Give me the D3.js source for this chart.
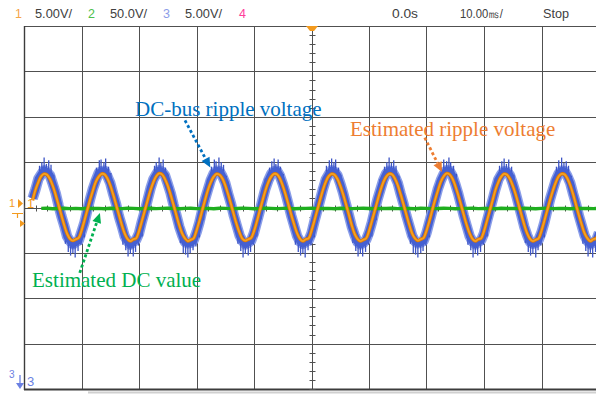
<!DOCTYPE html>
<html>
<head>
<meta charset="utf-8">
<script src="https://cdn.jsdelivr.net/npm/d3@7"></script>
<style>
  html, body { margin: 0; padding: 0; background: #fff; }
  svg { display: block; }
</style>
</head>
<body>
<svg id="scope" width="596" height="394"></svg>
<script>
// ---------------------------
// Scope capture: DC-bus ripple, estimated ripple and estimated DC
// ---------------------------

// header read-outs
const chanLabels = ["1", "2", "3", "4"];
const chanScales = ["5.00V/", "50.0V/", "5.00V/", ""];
const timeLabels = ["0.0s", "10.00㎳/", "Stop"];

// sample clock of the traces (ms)
const t0 = -48.5;
const dt = 0.5;

// ch1 - estimated ripple voltage (V)
const ch1 = [
  0.8, 1.95, 2.8, 3.45, 3.7, 3.6, 3.15, 2.4, 1.4, 0.3, -0.85, -1.95, -2.9, -3.45, -3.65, -3.5, -3.35,
  -2.55, -1.45, -0.3, 0.85, 1.9, 2.85, 3.4, 3.7, 3.65, 3.2, 2.45, 1.45, 0.35, -0.8, -1.9, -2.85, -3.45, -3.7, -3.5, -3.4,
  -2.6, -1.5, -0.35, 0.8, 1.9, 2.8, 3.45, 3.75, 3.65, 3.15, 2.4, 1.4, 0.3, -0.85, -1.95, -2.85, -3.4, -3.7, -3.55, -3.4,
  -2.55, -1.5, -0.3, 0.85, 1.95, 2.8, 3.4, 3.7, 3.6, 3.2, 2.45, 1.45, 0.35, -0.8, -1.9, -2.8, -3.45, -3.65, -3.5, -3.35,
  -2.6, -1.55, -0.35, 0.8, 1.9, 2.8, 3.4, 3.7, 3.65, 3.2, 2.4, 1.4, 0.3, -0.85, -1.9, -2.85, -3.45, -3.7, -3.5, -3.4,
  -2.55, -1.45, -0.3, 0.85, 1.95, 2.85, 3.45, 3.7, 3.6, 3.15, 2.4, 1.45, 0.35, -0.8, -1.95, -2.9, -3.45, -3.7, -3.55, -3.4,
  -2.6, -1.5, -0.35, 0.8, 1.9, 2.8, 3.4, 3.7, 3.65, 3.2, 2.45, 1.45, 0.35, -0.8, -1.9, -2.85, -3.4, -3.65, -3.5, -3.35,
  -2.55, -1.5, -0.3, 0.85, 1.9, 2.85, 3.45, 3.75, 3.65, 3.2, 2.4, 1.4, 0.3, -0.85, -1.95, -2.85, -3.45, -3.7, -3.5, -3.4,
  -2.6, -1.5, -0.35, 0.8, 1.95, 2.8, 3.4, 3.7, 3.6, 3.15, 2.4, 1.45, 0.35, -0.8, -1.9, -2.85, -3.45, -3.7, -3.55, -3.4,
  -2.55, -1.45, -0.3, 0.85, 1.9, 2.8, 3.45, 3.7, 3.65, 3.2, 2.45, 1.45, 0.3, -0.85, -1.9, -2.85, -3.4, -3.7, -3.5, -3.4,
  -2.6
];

// ch3 - measured DC-bus ripple, centre of the noisy band (V)
const ch3 = [
  1.0, 2.0, 3.15, 3.65, 4.1, 3.9, 3.55, 2.6, 1.6, 0.25, -0.95, -2.0, -3.2, -3.7, -4.05, -3.8, -3.65,
  -2.7, -1.7, -0.3, 0.95, 2.1, 3.0, 3.8, 4.0, 4.05, 3.45, 2.7, 1.5, 0.4, -0.95, -2.0, -3.15, -3.7, -4.1, -3.8, -3.55,
  -2.85, -1.55, -0.4, 0.85, 2.1, 3.1, 3.65, 4.1, 3.95, 3.55, 2.6, 1.6, 0.3, -0.85, -2.1, -3.05, -3.8, -3.95, -3.9, -3.6,
  -2.75, -1.65, -0.3, 0.95, 2.0, 3.05, 3.75, 4.05, 4.0, 3.45, 2.7, 1.5, 0.4, -0.9, -2.0, -3.1, -3.7, -4.05, -3.85, -3.65,
  -2.8, -1.6, -0.4, 0.9, 2.1, 3.0, 3.7, 4.0, 4.05, 3.5, 2.6, 1.55, 0.3, -0.95, -2.05, -3.15, -3.75, -4.0, -3.8, -3.6,
  -2.85, -1.55, -0.35, 0.85, 2.05, 3.1, 3.65, 4.1, 3.95, 3.55, 2.65, 1.6, 0.35, -0.85, -2.1, -3.05, -3.8, -4.05, -3.9, -3.55,
  -2.75, -1.65, -0.3, 0.95, 2.0, 3.05, 3.75, 4.05, 4.0, 3.45, 2.7, 1.5, 0.4, -0.9, -2.0, -3.1, -3.7, -3.95, -3.85, -3.65,
  -2.8, -1.6, -0.4, 0.9, 2.1, 3.0, 3.7, 4.1, 4.05, 3.5, 2.6, 1.55, 0.3, -0.95, -2.05, -3.15, -3.75, -4.05, -3.8, -3.6,
  -2.85, -1.55, -0.35, 0.85, 2.05, 3.1, 3.65, 4.0, 3.95, 3.55, 2.65, 1.6, 0.35, -0.85, -2.1, -3.05, -3.8, -4.0, -3.9, -3.55,
  -2.75, -1.65, -0.3, 0.95, 2.0, 3.05, 3.75, 4.05, 4.0, 3.45, 2.7, 1.5, 0.4, -0.9, -2.0, -3.1, -3.7, -4.05, -3.85, -3.65,
  -2.8
];

// ch3 switching noise near peaks and troughs: [time ms, from V, to V]
const ch3Spikes = [
  [-47.8,1.9,3.3],[-47.3,2.7,4.6],[-46.9,3.2,5.0],[-46.5,3.5,5.5],[-46.1,3.6,4.8],[-45.7,3.4,5.2],[-45.3,3.0,4.7],[-44.8,2.1,3.6],
  [-37.9,1.7,3.2],[-37.4,2.6,4.4],[-36.9,3.2,5.2],[-36.6,3.5,5.3],[-36.1,3.6,5.0],[-35.8,3.4,5.4],[-35.3,2.9,4.5],[-34.9,2.3,3.8],
  [-27.8,1.8,3.5],[-27.3,2.6,4.6],[-27.0,3.1,5.0],[-26.5,3.5,5.5],[-26.2,3.6,4.9],[-25.8,3.4,5.3],[-25.4,2.9,4.4],[-24.9,2.2,3.6],
  [-17.9,1.7,3.3],[-17.4,2.6,4.5],[-16.9,3.2,5.3],[-16.6,3.5,5.1],[-16.1,3.6,5.5],[-15.7,3.4,5.0],[-15.3,2.9,4.7],[-14.8,2.1,3.5],
  [-7.8,1.8,3.4],[-7.3,2.7,4.4],[-6.9,3.2,5.1],[-6.5,3.5,5.4],[-6.2,3.6,4.8],[-5.8,3.4,5.3],[-5.4,2.9,4.5],[-4.9,2.2,3.7],
  [2.1,1.7,3.2],[2.6,2.6,4.6],[3.1,3.2,5.2],[3.5,3.5,5.4],[3.9,3.6,5.0],[4.2,3.4,5.3],[4.7,2.9,4.4],[5.1,2.3,3.6],
  [12.2,1.8,3.5],[12.7,2.6,4.5],[13.1,3.2,5.0],[13.5,3.5,5.5],[13.9,3.6,4.9],[14.3,3.4,5.2],[14.7,2.9,4.6],[15.2,2.1,3.5],
  [22.1,1.7,3.3],[22.6,2.7,4.4],[23.0,3.2,5.3],[23.5,3.5,5.1],[23.9,3.6,5.5],[24.2,3.4,5.0],[24.7,2.9,4.6],[25.2,2.2,3.7],
  [32.2,1.8,3.4],[32.7,2.6,4.6],[33.1,3.2,5.1],[33.5,3.5,5.4],[33.9,3.6,4.8],[34.3,3.4,5.3],[34.8,2.9,4.5],[35.2,2.3,3.6],
  [42.1,1.7,3.2],[42.6,2.6,4.5],[43.0,3.2,5.2],[43.5,3.5,5.5],[43.9,3.6,4.9],[44.3,3.4,5.1],[44.7,2.9,4.6],[45.2,2.2,3.5],
  [-42.8,-2.3,-4.0],[-42.3,-3.0,-4.9],[-41.9,-3.4,-5.3],[-41.5,-3.6,-5.0],[-41.1,-3.6,-5.5],[-40.6,-3.2,-4.8],[-40.1,-2.6,-4.1],
  [-32.8,-2.3,-4.1],[-32.3,-3.0,-4.7],[-31.9,-3.4,-5.4],[-31.5,-3.6,-5.1],[-31.0,-3.6,-5.4],[-30.6,-3.2,-4.9],[-30.1,-2.6,-4.2],
  [-22.8,-2.3,-3.9],[-22.3,-3.0,-5.0],[-21.9,-3.4,-5.2],[-21.5,-3.6,-5.5],[-21.1,-3.6,-5.0],[-20.6,-3.2,-4.7],[-20.1,-2.6,-4.3],
  [-12.8,-2.3,-4.0],[-12.3,-3.0,-4.8],[-11.9,-3.4,-5.5],[-11.5,-3.6,-5.1],[-11.0,-3.6,-5.3],[-10.6,-3.2,-4.9],[-10.1,-2.6,-4.1],
  [-2.8,-2.3,-4.1],[-2.3,-3.0,-4.9],[-1.9,-3.4,-5.3],[-1.5,-3.6,-5.0],[-1.1,-3.6,-5.5],[-0.6,-3.2,-4.7],[-0.1,-2.6,-4.2],
  [7.2,-2.3,-3.9],[7.7,-3.0,-4.8],[8.1,-3.4,-5.4],[8.5,-3.6,-5.1],[8.9,-3.6,-5.4],[9.4,-3.2,-4.9],[9.9,-2.6,-4.1],
  [17.2,-2.3,-4.0],[17.7,-3.0,-5.0],[18.1,-3.4,-5.2],[18.5,-3.6,-5.5],[19.0,-3.6,-5.0],[19.4,-3.2,-4.8],[19.9,-2.6,-4.2],
  [27.2,-2.3,-4.1],[27.7,-3.0,-4.7],[28.1,-3.4,-5.5],[28.5,-3.6,-5.0],[28.9,-3.6,-5.3],[29.4,-3.2,-4.9],[29.9,-2.6,-4.1],
  [37.2,-2.3,-3.9],[37.7,-3.0,-4.9],[38.1,-3.4,-5.3],[38.5,-3.6,-5.1],[39.0,-3.6,-5.5],[39.4,-3.2,-4.7],[39.9,-2.6,-4.2],
  [47.2,-2.3,-4.0],[47.7,-3.0,-4.8],[48.1,-3.4,-5.4],[48.5,-3.6,-5.0],[48.9,-3.6,-5.5],[49.4,-3.2,-4.9],[49.9,-2.6,-4.1]
];

// ch3 noise on the slopes: [time ms, from V, to V]
const ch3SlopeSpikes = [
  [-44.35,0.3,2.4],[-43.65,-1.6,0.6],[-42.95,-3.2,-1.3],
  [-34.4,0.2,2.5],[-33.7,-1.5,0.7],[-33.0,-3.3,-1.2],
  [-24.3,0.4,2.3],[-23.6,-1.7,0.5],[-22.9,-3.1,-1.4],
  [-14.4,0.3,2.5],[-13.65,-1.6,0.8],[-13.0,-3.2,-1.2],
  [-4.35,0.2,2.4],[-3.6,-1.5,0.6],[-2.95,-3.3,-1.3],
  [5.6,0.4,2.3],[6.35,-1.7,0.7],[7.0,-3.1,-1.4],
  [15.65,0.3,2.5],[16.35,-1.6,0.5],[17.0,-3.2,-1.2],
  [25.6,0.2,2.4],[26.4,-1.5,0.8],[27.0,-3.3,-1.3],
  [35.65,0.4,2.3],[36.35,-1.7,0.6],[37.0,-3.1,-1.4],
  [45.6,0.3,2.5],[46.35,-1.6,0.7],[47.0,-3.2,-1.2],
  [-39.5,-3.3,-1.3],[-38.8,-1.3,0.9],[-38.1,1.0,3.1],
  [-29.45,-3.2,-1.4],[-28.8,-1.2,0.8],[-28.1,1.1,3.0],
  [-19.5,-3.3,-1.2],[-18.75,-1.4,1.0],[-18.1,0.9,3.1],
  [-9.5,-3.2,-1.3],[-8.8,-1.3,0.9],[-8.05,1.0,3.2],
  [0.5,-3.3,-1.4],[1.2,-1.2,0.8],[1.9,1.1,3.0],
  [10.5,-3.2,-1.3],[11.25,-1.4,0.9],[11.9,0.9,3.1],
  [20.5,-3.3,-1.2],[21.2,-1.3,1.0],[21.9,1.0,3.0],
  [30.55,-3.2,-1.4],[31.2,-1.2,0.8],[31.95,1.1,3.2],
  [40.5,-3.3,-1.3],[41.2,-1.4,0.9],[41.9,0.9,3.1]
];

// ch2 - estimated DC value (V, 50 V/div), one sample per ms from -47 ms
const ch2Start = -47;
const ch2 = [
  -1.0, -0.8, -1.3, -1.1, -0.9, -1.2, -1.0, -1.4, -0.9, -1.1, -1.0, -1.3, -0.8, -1.1, -1.2, -0.9, -1.0, -1.3, -1.1, -0.9,
  -1.2, -1.0, -0.8, -1.1, -1.3, -1.0, -0.9, -1.2, -1.1, -1.0, -1.4, -0.9, -1.0, -1.2, -1.1, -0.8, -1.0, -1.3, -1.1, -0.9,
  -1.0, -1.2, -1.0, -0.9, -1.3, -1.1, -1.0, -0.8, -1.2, -1.1, -1.0, -1.3, -0.9, -1.1, -1.2, -1.0, -0.9, -1.1, -1.4, -1.0,
  -1.1, -0.9, -1.2, -1.0, -1.1, -1.3, -0.9, -1.0, -1.2, -1.1, -0.8, -1.0, -1.3, -1.1, -1.0, -0.9, -1.2, -1.1, -1.0, -1.3,
  -0.9, -1.1, -1.0, -1.2, -0.8, -1.1, -1.3, -1.0, -0.9, -1.2, -1.1, -1.0, -1.4, -0.9, -1.1, -1.0, -1.2, -1.0
];

// annotations: text anchor and dotted arrow, in (ms, V on the 5 V/div grid)
const notes = [
  { text: "DC-bus ripple voltage", color: "#0070c0", at: [-30.7, 10.1], from: [-22.0, 9.6], to: [-17.6, 4.4] },
  { text: "Estimated ripple voltage", color: "#ed7d31", at: [6.7, 7.9], from: [19.7, 7.7], to: [22.7, 3.9] },
  { text: "Estimated DC value", color: "#00b050", at: [-48.6, -8.75], from: [-40.3, -7.2], to: [-36.8, -0.6] }
];

// ----- geometry of the graticule
const svg = d3.select("#scope");
const x = d3.scaleLinear().domain([-50, 50]).range([24, 599]);
const y = d3.scaleLinear().domain([-20, 20]).range([389, 26]);      // 5 V/div (ch1, ch3)
const y2 = d3.scaleLinear().domain([-200, 200]).range([389, 26]);   // 50 V/div (ch2)
const crisp = v => Math.round(v) + 0.5;

// grid
const grid = svg.append("g");
grid.selectAll("line.v").data(x.ticks(10)).enter().append("line")
  .attr("x1", d => crisp(x(d))).attr("x2", d => crisp(x(d)))
  .attr("y1", y(20)).attr("y2", y(-20))
  .attr("stroke", "#505050").attr("stroke-width", 1);
grid.selectAll("line.h").data(y.ticks(8)).enter().append("line")
  .attr("x1", x(-50)).attr("x2", 596)
  .attr("y1", d => crisp(y(d))).attr("y2", d => crisp(y(d)))
  .attr("stroke", "#505050").attr("stroke-width", 1);
// outer frame a bit heavier
grid.append("line").attr("x1", crisp(x(-50))).attr("x2", crisp(x(-50))).attr("y1", y(20)).attr("y2", y(-20) + 1)
  .attr("stroke", "#3c3c3c").attr("stroke-width", 1.4);
grid.append("line").attr("x1", x(-50)).attr("x2", 596).attr("y1", y(-20) + 0.5).attr("y2", y(-20) + 0.5)
  .attr("stroke", "#3c3c3c").attr("stroke-width", 2);
svg.append("line").attr("x1", 88).attr("x2", 596).attr("y1", 392.5).attr("y2", 392.5)
  .attr("stroke", "#d0d0d0").attr("stroke-width", 2);

// minor ticks on the centre axes
grid.selectAll("line.mx").data(d3.range(-50, 50.01, 2)).enter().append("line")
  .attr("x1", d => crisp(x(d))).attr("x2", d => crisp(x(d)))
  .attr("y1", crisp(y(0)) - 3).attr("y2", crisp(y(0)) + 3)
  .attr("stroke", "#505050").attr("stroke-width", 1);
grid.selectAll("line.my").data(d3.range(-20, 20.01, 1)).enter().append("line")
  .attr("x1", crisp(x(0)) - 3).attr("x2", crisp(x(0)) + 3)
  .attr("y1", d => crisp(y(d))).attr("y2", d => crisp(y(d)))
  .attr("stroke", "#505050").attr("stroke-width", 1);

// ----- traces
const tAt = i => t0 + i * dt;
const traces = svg.append("g");

// ch3 noisy band
const blueLine = d3.line().x((d, i) => x(tAt(i))).y(d => y(d)).curve(d3.curveLinear);
traces.append("path").datum(ch3).attr("d", blueLine)
  .attr("fill", "none").attr("stroke", "#8b9ee8").attr("stroke-width", 10.5).attr("stroke-linejoin", "round");
traces.selectAll("line.spike").data(ch3Spikes.concat(ch3SlopeSpikes)).enter().append("line")
  .attr("x1", d => x(d[0])).attr("x2", d => x(d[0]))
  .attr("y1", d => y(d[1])).attr("y2", d => y(d[2]))
  .attr("stroke", "#3d55c6").attr("stroke-width", 1.3);
traces.append("path").datum(ch3).attr("d", blueLine)
  .attr("fill", "none").attr("stroke", "#4560d2").attr("stroke-width", 7.5).attr("stroke-linejoin", "round");

// ch2 DC estimate
traces.append("path").datum(ch2)
  .attr("d", d3.line().x((d, i) => x(ch2Start + i)).y(d => y2(d)))
  .attr("fill", "none").attr("stroke", "#1eae1e").attr("stroke-width", 3.4);

// ch1 ripple estimate
const orangeLine = d3.line().x((d, i) => x(tAt(i))).y(d => y(d)).curve(d3.curveCatmullRom);
traces.append("path").datum(ch1).attr("d", orangeLine)
  .attr("fill", "none").attr("stroke", "#e07800").attr("stroke-width", 3.4);
traces.append("path").datum(ch1).attr("d", orangeLine)
  .attr("fill", "none").attr("stroke", "#f5a020").attr("stroke-width", 1.8);

// ----- header
const hdr = svg.append("g").attr("font-family", "'Liberation Sans', Arial, sans-serif").attr("font-size", 12.5);
const chanColors = ["#f5a54a", "#4cc04c", "#8c9ce8", "#ff3d9a"];
const chanX = [15, 88, 163, 239];
const scaleX = [35, 110, 185];
chanLabels.forEach((c, i) => {
  hdr.append("text").attr("x", chanX[i]).attr("y", 18).attr("fill", chanColors[i]).text(c);
  if (chanScales[i]) {
    hdr.append("text").attr("x", scaleX[i]).attr("y", 18).attr("fill", "#404040")
      .attr("textLength", 37).attr("lengthAdjust", "spacingAndGlyphs").text(chanScales[i]);
  }
});
const timeX = [392, 460, 543];
const timeW = [26, 43, 26];
timeLabels.forEach((s, i) => {
  hdr.append("text").attr("x", timeX[i]).attr("y", 18).attr("fill", "#404040")
    .attr("textLength", timeW[i]).attr("lengthAdjust", "spacingAndGlyphs").text(s);
});

// ----- channel markers
const orange = "#f39a1e";
svg.append("polygon").attr("points", [[306, 26], [318, 26], [314, 31], [310, 31]].join(" ")).attr("fill", orange);
const mk = svg.append("g").attr("font-family", "'Liberation Sans', Arial, sans-serif");
mk.append("text").attr("x", 9).attr("y", 207).attr("font-size", 11).attr("fill", orange).text("1");
mk.append("polygon").attr("points", [[18, 199], [23, 203.5], [18, 208]].join(" ")).attr("fill", orange);
mk.append("text").attr("x", 27).attr("y", 208).attr("font-size", 13).attr("fill", orange).text("1");
mk.append("path").attr("d", "M12,213.5H23M17.5,213.5V218").attr("stroke", orange).attr("stroke-width", 1.2).attr("fill", "none");
mk.append("polygon").attr("points", [[20, 220], [25, 223.5], [20, 227]].join(" ")).attr("fill", orange);
const blueMk = "#6b80e2";
mk.append("text").attr("x", 9).attr("y", 378).attr("font-size", 10).attr("fill", blueMk).text("3");
mk.append("line").attr("x1", 20).attr("x2", 20).attr("y1", 375).attr("y2", 384).attr("stroke", blueMk).attr("stroke-width", 1.3);
mk.append("polygon").attr("points", [[16, 383], [24, 383], [20, 389]].join(" ")).attr("fill", blueMk);
mk.append("text").attr("x", 27).attr("y", 386).attr("font-size", 13).attr("fill", blueMk).text("3");

// ----- annotations with dotted arrows
const ann = svg.append("g");
notes.forEach(n => {
  ann.append("text").attr("x", x(n.at[0])).attr("y", y(n.at[1]))
    .attr("font-family", "'Liberation Serif', 'Times New Roman', serif").attr("font-size", 21)
    .attr("fill", n.color).text(n.text);
  const x1 = x(n.from[0]), y1 = y(n.from[1]), x2 = x(n.to[0]), y2v = y(n.to[1]);
  const a = Math.atan2(y2v - y1, x2 - x1);
  const head = 10, half = 4.5;
  const bx = x2 - head * Math.cos(a), by = y2v - head * Math.sin(a);
  ann.append("line").attr("x1", x1).attr("y1", y1).attr("x2", bx).attr("y2", by)
    .attr("stroke", n.color).attr("stroke-width", 2.8).attr("stroke-dasharray", "3,2.5");
  ann.append("polygon")
    .attr("points", [[x2, y2v],
      [bx + half * Math.sin(a), by - half * Math.cos(a)],
      [bx - half * Math.sin(a), by + half * Math.cos(a)]].join(" "))
    .attr("fill", n.color);
});
</script>
</body>
</html>
